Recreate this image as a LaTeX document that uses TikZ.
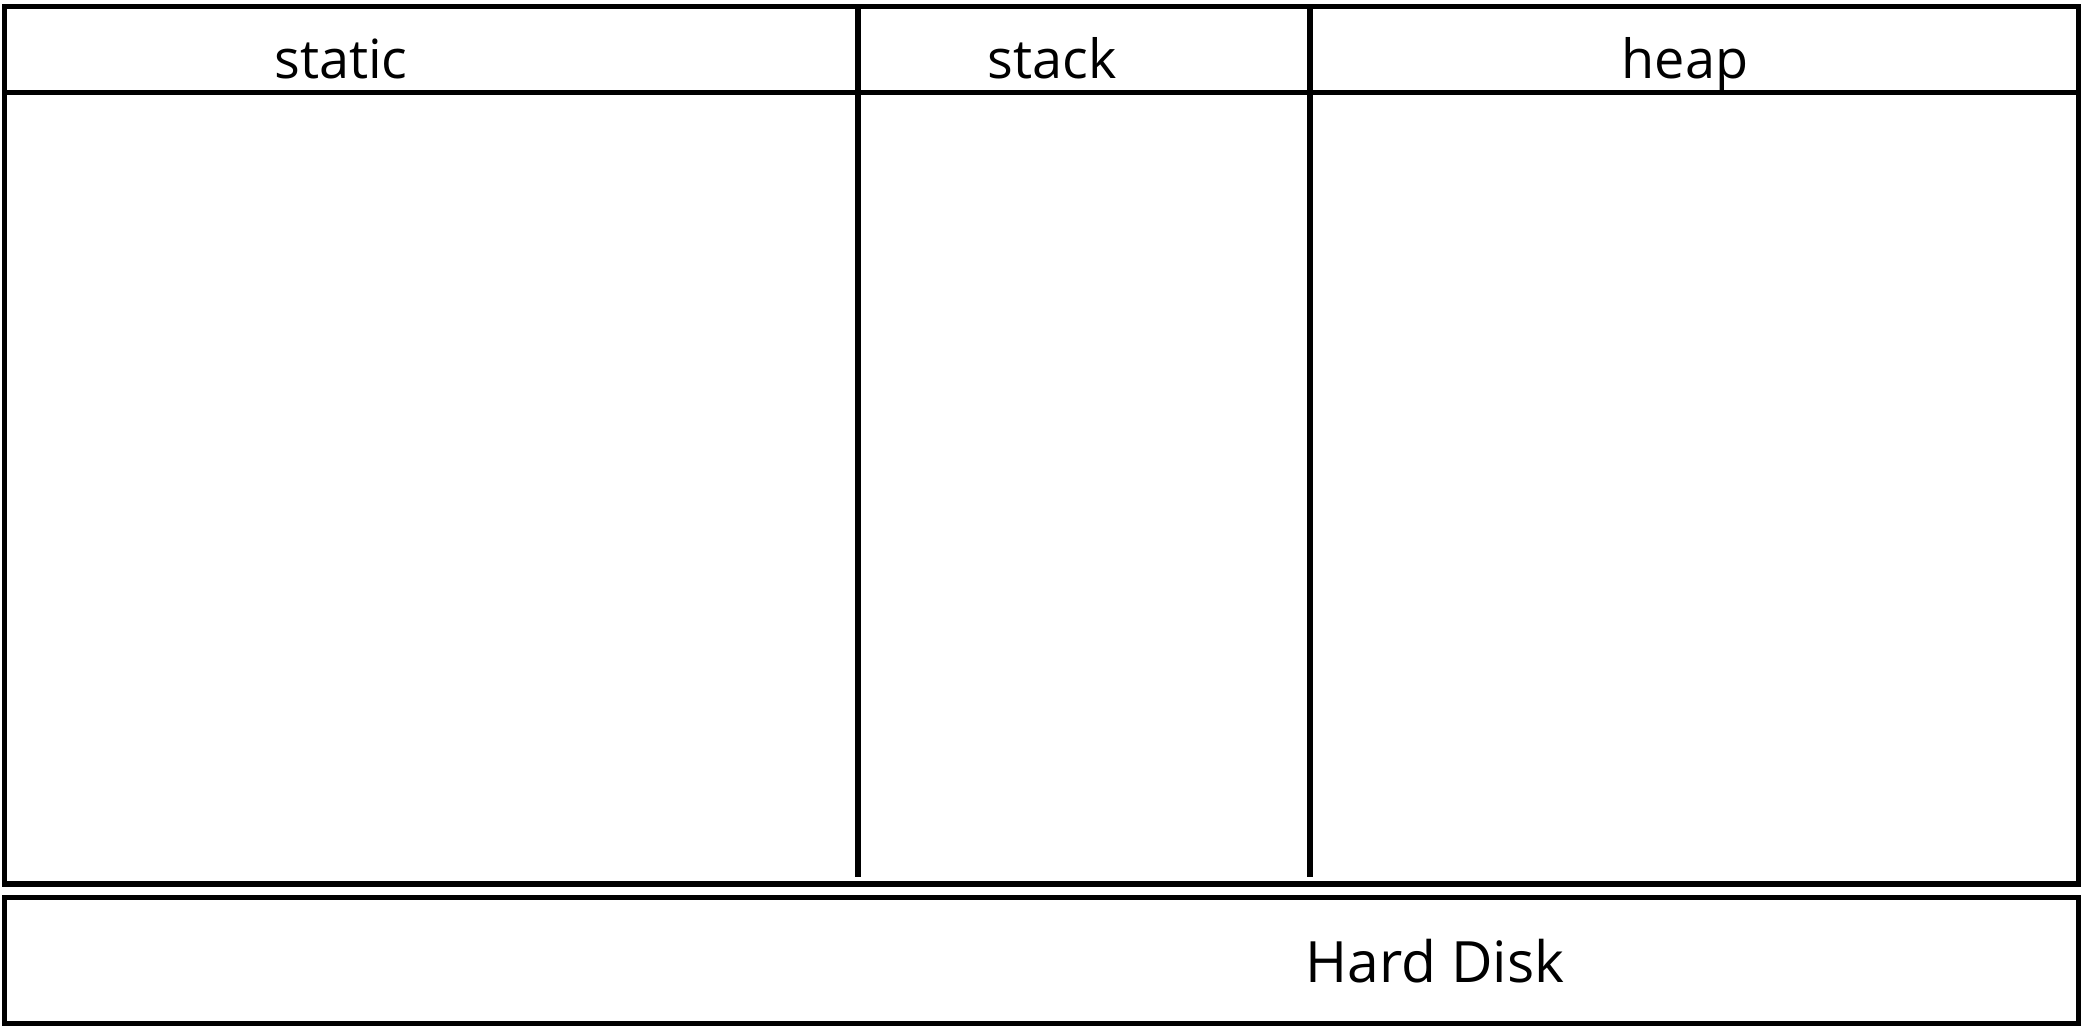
\documentclass[tikz,border=0pt]{standalone}
\usepackage{fontspec}
\setmainfont{Open Sans}
\begin{document}
\begin{tikzpicture}[x=0.5pt,y=-0.5pt,
  frame/.style={draw=black,line width=2.6pt},
  headlabel/.style={anchor=base,inner sep=0pt,font=\fontsize{27}{32}\selectfont},
  disklabel/.style={anchor=base,inner sep=0pt,font=\fontsize{28.5}{34}\selectfont}]
  \useasboundingbox (0,0) rectangle (2085,1034);
  % memory area with its three regions
  \draw[frame] (4.5,6.5) rectangle (2078.5,884);
  \draw[frame] (4.5,92.5) -- (2078.5,92.5);
  \coordinate (d1top) at (858,6.5);
  \coordinate (d1bot) at (858,877);
  \coordinate (d2top) at (1310,6.5);
  \coordinate (d2bot) at (1310,877);
  \draw[frame] (d1top) -- (d1bot);
  \draw[frame] (d2top) -- (d2bot);
  \node[headlabel] (static) at (341,78.3) {static};
  \node[headlabel] (stack) at (1052,78.3) {stack};
  \node[headlabel] (heap) at (1685,78.3) {heap};
  % disk below the memory
  \draw[frame] (4.5,897.5) rectangle (2078.5,1023.5);
  \node[disklabel] (disk) at (1435,982.5) {Hard Disk};
\end{tikzpicture}
\end{document}
